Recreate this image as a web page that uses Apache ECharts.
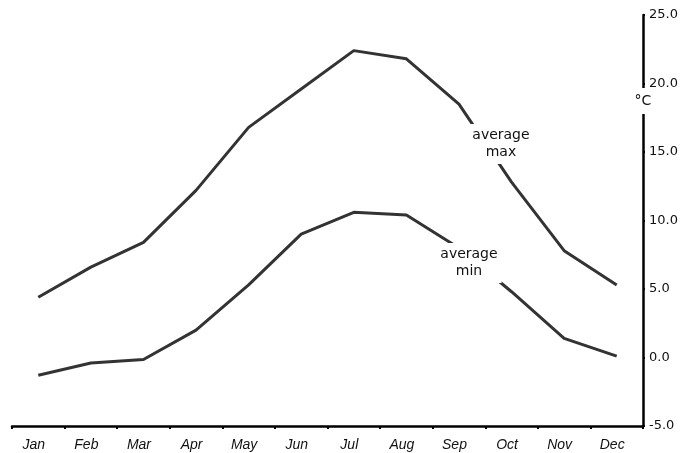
<!DOCTYPE html>
<html><head><meta charset="utf-8">
<script src="https://cdn.jsdelivr.net/npm/echarts@6/dist/echarts.min.js"></script>
<style>html,body{margin:0;padding:0;background:#fff}#c{width:682px;height:453px}</style>
</head><body><div id="c"></div>
<script>
var months = ['Jan','Feb','Mar','Apr','May','Jun','Jul','Aug','Sep','Oct','Nov','Dec'];
var avgMax = [4.4, 6.6, 8.4, 12.2, 16.8, 19.6, 22.4, 21.8, 18.5, 12.8, 7.8, 5.3];
var avgMin = [-1.3, -0.4, -0.15, 2.0, 5.3, 9.0, 10.6, 10.4, 8.0, 4.8, 1.4, 0.1];
var yTicks = {min: -5, max: 25, interval: 5};
var unit = '°C';
var maxLabel = 'average\nmax';
var minLabel = 'average\nmin';

function labelPoint(arr, idx, text, offset) {
  return {
    symbol: 'circle', symbolSize: 0, silent: true, animation: false,
    data: [{coord: [idx, arr[idx]], value: text,
      label: {show: true, formatter: text, position: 'inside', offset: offset,
        color: '#111', fontSize: 14, fontFamily: 'DejaVu Sans', lineHeight: 17,
        backgroundColor: '#fff', padding: [3, 4]}}]
  };
}

var chart = echarts.init(document.getElementById('c'), null, {renderer: 'canvas'});
chart.setOption({
  animation: false,
  grid: {left: 12, right: 39, top: 15, bottom: 27},
  xAxis: {
    type: 'category', data: months, boundaryGap: true,
    axisLine: {onZero: false, lineStyle: {color: '#000', width: 2.5}},
    axisTick: {show: true, length: 3, lineStyle: {color: '#000', width: 2}},
    axisLabel: {color: '#111', fontStyle: 'italic', fontSize: 14, fontFamily: 'Liberation Sans, Arial', margin: 12, padding: [0, 9, 0, 0]},
    splitLine: {show: false}
  },
  yAxis: [{
    type: 'value', position: 'right', offset: 0, min: yTicks.min, max: yTicks.max, interval: yTicks.interval,
    axisLine: {show: true, lineStyle: {color: '#000', width: 2.5}},
    axisTick: {show: true, length: 2, lineStyle: {color: '#000', width: 2}},
    axisLabel: {color: '#111', fontSize: 13, fontFamily: 'DejaVu Sans', margin: 6,
      formatter: function (v) { return v.toFixed(1); }},
    splitLine: {show: false}
  }, {
    type: 'value', position: 'right', offset: 0, min: yTicks.min, max: yTicks.max, interval: yTicks.interval,
    z: 10,
    name: unit, nameLocation: 'end', nameGap: -86, nameMoveOverlap: false,
    nameTextStyle: {color: '#111', fontSize: 14, fontFamily: 'DejaVu Sans', backgroundColor: '#fff', padding: [6, 4], align: 'center', verticalAlign: 'middle'},
    axisLine: {show: false}, axisTick: {show: false}, axisLabel: {show: false}, splitLine: {show: false}
  }],
  series: [
    {type: 'line', data: avgMax, yAxisIndex: 0, symbol: 'none', showSymbol: false,
      lineStyle: {color: '#333', width: 3}, z: 2, markPoint: labelPoint(avgMax, 8, maxLabel, [42, 40])},
    {type: 'line', data: avgMin, yAxisIndex: 0, symbol: 'none', showSymbol: false,
      lineStyle: {color: '#333', width: 3}, z: 2, markPoint: labelPoint(avgMin, 8, minLabel, [10, 15])}
  ]
});
</script></body></html>
